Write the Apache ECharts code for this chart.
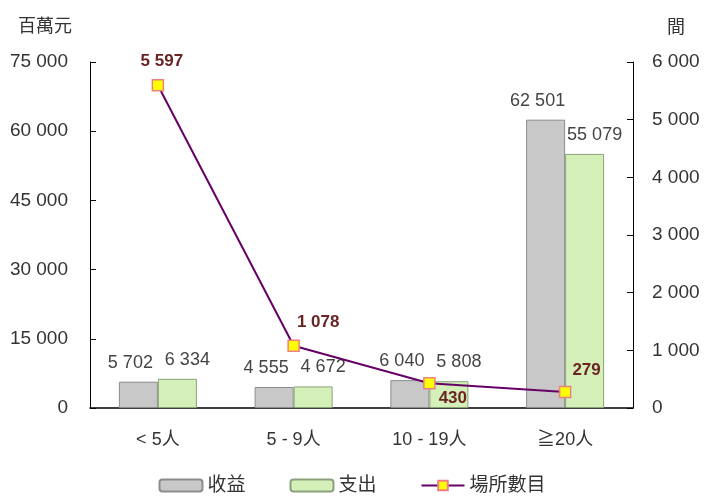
<!DOCTYPE html>
<html>
<head>
<meta charset="utf-8">
<script src="https://cdn.jsdelivr.net/npm/echarts@6/dist/echarts.min.js"></script>
<style>
  html, body { margin: 0; padding: 0; background: #fff; }
  #chart { width: 704px; height: 496px; }
</style>
</head>
<body>
<div id="chart"></div>
<script>
const categories = ['< 5人', '5 - 9人', '10 - 19人', '≧20人'];
const revenue = [5702, 4555, 6040, 62501];
const expense = [6334, 4672, 5808, 55079];
const establishments = [5597, 1078, 430, 279];

const FONT = '"Liberation Sans", "Noto Sans CJK TC", sans-serif';

function fmt(v) {
    return String(v).replace(/\B(?=(\d{3})+(?!\d))/g, ' ');
}

// label placement for the line points
const lineLabelPos = [
    { position: 'top', offset: [4, -4] },
    { position: 'right', offset: [-8, -24] },
    { position: 'right', offset: [-2, 15] },
    { position: 'right', offset: [-4, -22] }
];

const chart = echarts.init(document.getElementById('chart'));

chart.setOption({
    animation: false,
    textStyle: { fontFamily: FONT },
    grid: { left: 90, right: 71, top: 62, bottom: 88 },
    legend: {
        top: 471,
        left: 'center',
        itemGap: 44,
        itemWidth: 43,
        itemHeight: 12,
        textStyle: { fontSize: 19, color: '#333', fontFamily: FONT },
        data: ['收益', '支出', '場所數目']
    },
    xAxis: {
        type: 'category',
        data: categories,
        axisLine: { lineStyle: { color: '#000', width: 1.5 } },
        axisTick: { inside: true, length: 6, lineStyle: { color: '#666' } },
        axisLabel: { fontSize: 18, color: '#333', margin: 23, fontFamily: FONT }
    },
    yAxis: [
        {
            type: 'value',
            name: '百萬元',
            nameLocation: 'end',
            nameGap: 26,
            nameTextStyle: { fontSize: 18, color: '#333', align: 'center', padding: [0, 0, 0, -90], fontFamily: FONT },
            min: 0,
            max: 75000,
            interval: 15000,
            axisLine: { show: true, lineStyle: { color: '#000' } },
            axisTick: { show: true, inside: true, length: 6, lineStyle: { color: '#000' } },
            splitLine: { show: false },
            axisLabel: { fontSize: 19, color: '#333', margin: 22, formatter: fmt, fontFamily: FONT }
        },
        {
            type: 'value',
            name: '間',
            nameLocation: 'end',
            nameGap: 25,
            nameTextStyle: { fontSize: 18, color: '#333', padding: [0, 0, 0, 86], fontFamily: FONT },
            min: 0,
            max: 6000,
            interval: 1000,
            axisLine: { show: true, lineStyle: { color: '#000' } },
            axisTick: { show: true, inside: true, length: 6, lineStyle: { color: '#000' } },
            splitLine: { show: false },
            axisLabel: { fontSize: 19, color: '#333', margin: 19, formatter: fmt, fontFamily: FONT }
        }
    ],
    series: [
        {
            name: '收益',
            type: 'bar',
            data: revenue,
            barWidth: 39,
            barGap: '0%',
            itemStyle: { color: '#c8c8c8', borderColor: '#8c8c8c', borderWidth: 1 },
            label: {
                show: true, position: 'top', distance: 10, offset: [-8, 0],
                fontSize: 18, color: '#444', fontFamily: FONT,
                formatter: p => fmt(p.value)
            }
        },
        {
            name: '支出',
            type: 'bar',
            data: expense,
            barWidth: 39,
            barGap: '0%',
            itemStyle: { color: '#d4f0b8', borderColor: '#8aa27c', borderWidth: 1 },
            label: {
                show: true, position: 'top', distance: 10, offset: [10, 0],
                fontSize: 18, color: '#444', fontFamily: FONT,
                formatter: p => fmt(p.value)
            }
        },
        {
            name: '場所數目',
            type: 'line',
            yAxisIndex: 1,
            data: establishments.map((v, i) => ({
                value: v,
                label: lineLabelPos[i]
            })),
            symbol: 'rect',
            symbolSize: 11,
            lineStyle: { color: '#660066', width: 2 },
            itemStyle: { color: '#ffff00', borderColor: '#f08080', borderWidth: 1.5 },
            label: {
                show: true,
                fontSize: 17,
                fontWeight: 'bold',
                color: '#6b2424',
                fontFamily: FONT,
                formatter: p => fmt(p.value)
            },
            z: 5
        }
    ]
});
</script>
</body>
</html>
